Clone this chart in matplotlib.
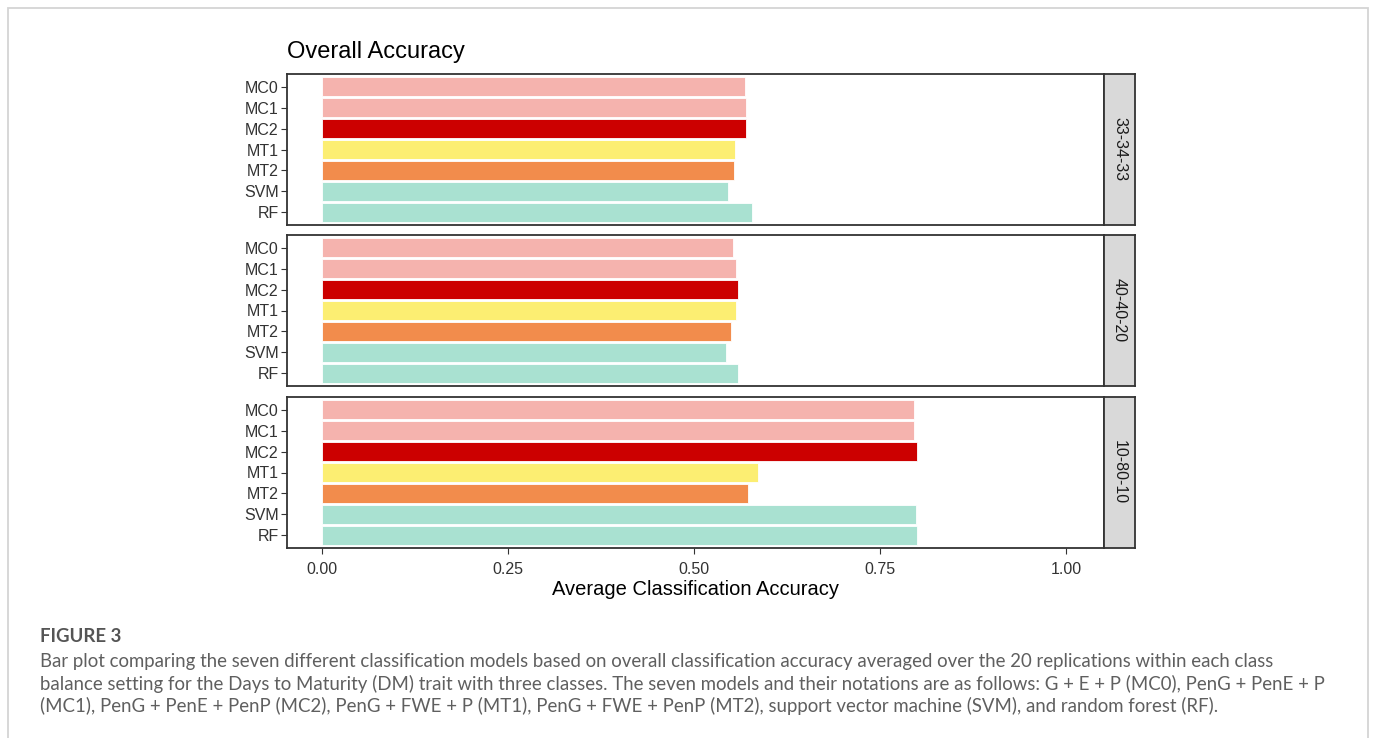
import numpy as np
import matplotlib.pyplot as plt
from matplotlib.patches import Rectangle

# Models, in plotting order (top to bottom)
models = ["MC0", "MC1", "MC2", "MT1", "MT2", "SVM", "RF"]
model_colors = ["#F5B3AE", "#F5B3AE", "#CC0000", "#FCEE72", "#F28C4C", "#A9E1D1", "#A9E1D1"]

# class balance settings (facet rows)
settings = ["33-34-33", "40-40-20", "10-80-10"]

# average classification accuracy per model
acc_33_34_33 = [0.568, 0.570, 0.570, 0.555, 0.554, 0.546, 0.578]
acc_40_40_20 = [0.553, 0.557, 0.559, 0.557, 0.550, 0.543, 0.559]
acc_10_80_10 = [0.796, 0.796, 0.800, 0.586, 0.573, 0.798, 0.800]
accuracy = [acc_33_34_33, acc_40_40_20, acc_10_80_10]

xticks = [0.0, 0.25, 0.5, 0.75, 1.0]
xtick_labels = ["0.00", "0.25", "0.50", "0.75", "1.00"]

caption_title = "FIGURE 3"
caption_lines = [
    "Bar plot comparing the seven different classification models based on overall classification accuracy averaged over the 20 replications within each class",
    "balance setting for the Days to Maturity (DM) trait with three classes. The seven models and their notations are as follows: G + E + P (MC0), PenG + PenE + P",
    "(MC1), PenG + PenE + PenP (MC2), PenG + FWE + P (MT1), PenG + FWE + PenP (MT2), support vector machine (SVM), and random forest (RF).",
]

W, H = 1375, 738
fig = plt.figure(figsize=(W / 100, H / 100), dpi=100)
fig.patch.set_facecolor("white")

# light frame around the whole figure block
frame = Rectangle((8 / W, -0.05), 1360 / W, 1 - 8 / H + 0.05, transform=fig.transFigure,
                  fill=False, edgecolor="#d4d4d4", linewidth=1.3)
fig.patches.append(frame)

font = "Liberation Sans"
edge = "#333333"

left, right = 287, 1104
strip_w = 31
panel_tops = [74, 235, 397]
panel_h = 151
ypos = np.arange(len(models))

for i, (setting, vals) in enumerate(zip(settings, accuracy)):
    top = panel_tops[i]
    ax = fig.add_axes([left / W, 1 - (top + panel_h) / H, (right - left) / W, panel_h / H])
    ax.barh(ypos, vals, height=0.9, color=model_colors, edgecolor="white", linewidth=0.6)
    ax.set_xlim(-0.047, 1.051)
    ax.set_ylim(len(models) - 0.4, -0.6)
    ax.set_yticks(ypos)
    ax.set_yticklabels(models, fontfamily=font, fontsize=11.5, color="#333333")
    ax.tick_params(axis="y", length=4, width=0.8, color="#333333", pad=2)
    if i == len(settings) - 1:
        ax.set_xticks(xticks)
        ax.set_xticklabels(xtick_labels, fontfamily=font, fontsize=11.5, color="#333333")
        ax.tick_params(axis="x", length=4, width=0.8, color="#333333", pad=6)
        ax.set_xlabel("Average Classification Accuracy", fontfamily=font, fontsize=14.5,
                      color="black", labelpad=2)
    else:
        ax.set_xticks([])
    for s in ax.spines.values():
        s.set_color(edge)
        s.set_linewidth(1.3)

    # facet strip on the right
    sax = fig.add_axes([right / W, 1 - (top + panel_h) / H, strip_w / W, panel_h / H])
    sax.set_facecolor("#D9D9D9")
    sax.set_xticks([])
    sax.set_yticks([])
    for s in sax.spines.values():
        s.set_color(edge)
        s.set_linewidth(1.3)
    sax.text(0.5, 0.5, setting, rotation=-90, ha="center", va="center",
             fontfamily=font, fontsize=11.5, color="#1a1a1a", transform=sax.transAxes)

fig.text(287 / W, 1 - 52 / H, "Overall Accuracy", fontfamily=font, fontsize=17,
         ha="left", va="center", color="black")

# caption below the chart
fig.text(40 / W, 1 - 636 / H, caption_title, fontfamily="Lato", fontsize=13.4,
         fontweight="bold", color="#555555", ha="left", va="center")
for k, line in enumerate(caption_lines):
    fig.text(40 / W, 1 - (661 + 22.5 * k) / H, line, fontfamily="Lato", fontsize=13.4,
             color="#5f5f5f", ha="left", va="center")

fig.savefig("out.png", dpi=100)
